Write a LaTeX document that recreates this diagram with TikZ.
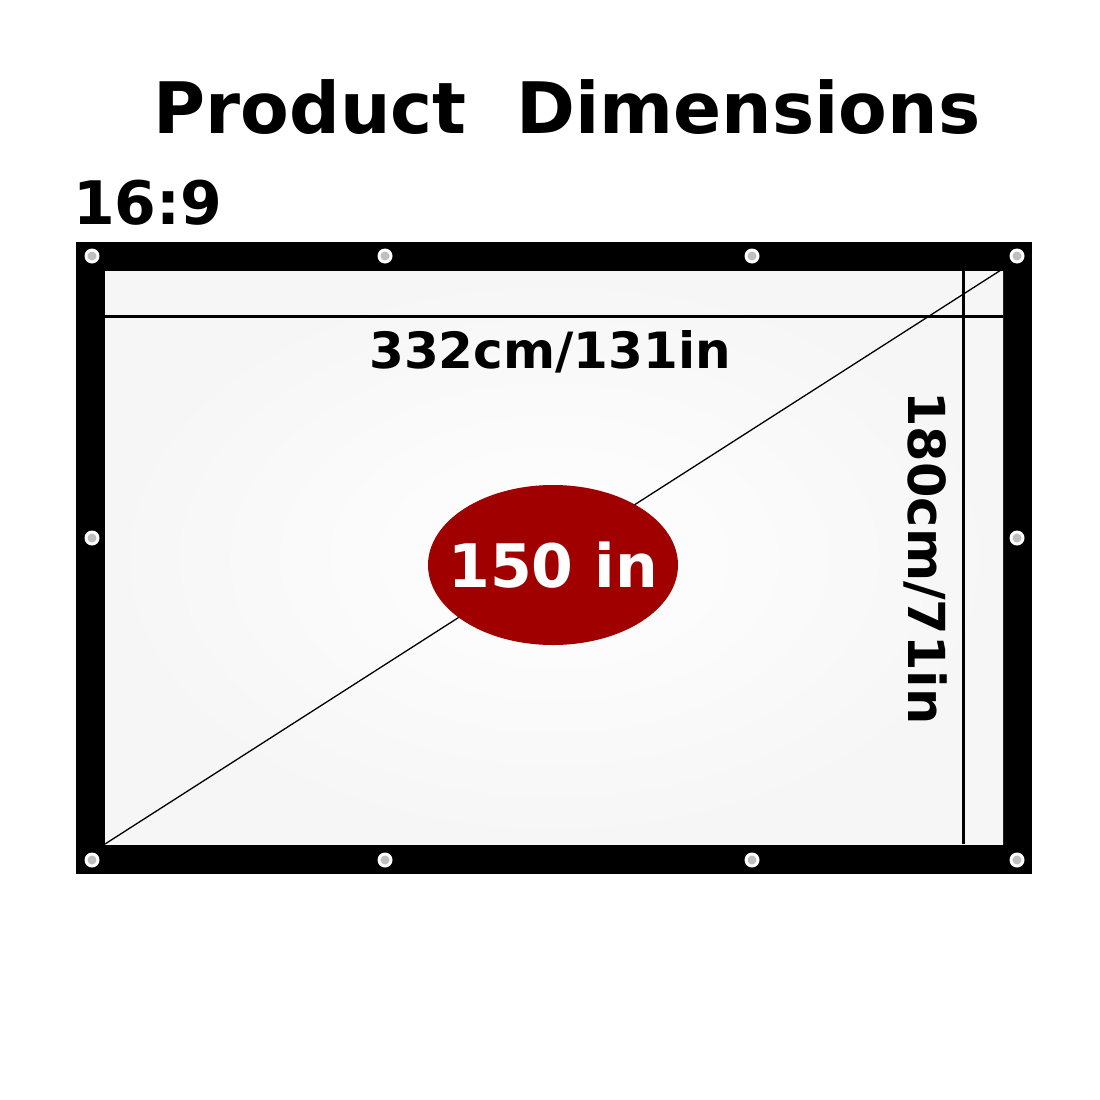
\documentclass[tikz,border=0pt]{standalone}
\usepackage{fontspec}
\setmainfont{DejaVu Sans}
\usetikzlibrary{shapes.geometric}
\definecolor{darkred}{HTML}{A00000}
\definecolor{screen}{HTML}{F6F6F6}
\tikzset{
  grommet/.style={circle,fill=white,draw=none,minimum size=15pt,inner sep=0pt,path picture={\fill[black!25] (path picture bounding box.center) circle (4.5pt);}},
  bigtext/.style={inner sep=0pt},
  measure/.style={line width=3pt,black}
}
\begin{document}
\begin{tikzpicture}[x=1pt,y=-1pt]
\useasboundingbox (0,0) rectangle (1100,1100);
\fill[white] (0,0) rectangle (1100,1100);
% screen frame
\fill[black] (76,242) rectangle (1032,874);
\shade[inner color=white,outer color=screen] (105,271) rectangle (1003,844);
\coordinate (bl) at (105,844);
\coordinate (tr) at (1001,270);
\coordinate (hl) at (105,316);
\coordinate (hr) at (1003,316);
\coordinate (vt) at (963,271);
\coordinate (vb) at (963,844);
\draw[measure] (hl) -- (hr);
\draw[measure] (vt) -- (vb);
\draw[line width=1.3pt] (bl) -- (tr);
% grommets
\foreach \n/\x/\y in {a/92/256,b/385/256,c/752/256,d/1017/256,e/92/538,f/1017/538,g/92/860,h/385/860,i/752/860,j/1017/860}
  \node[grommet] (g\n) at (\x,\y) {};
% texts
\node[bigtext,font=\fontsize{71}{78}\bfseries\selectfont] (title) at (567,107) {Product\ \ Dimensions};
\node[bigtext,font=\fontsize{60}{66}\bfseries\selectfont,anchor=west] (ratio) at (73,203) {16:9};
\node[bigtext,font=\fontsize{50}{56}\bfseries\selectfont] (width) at (550,352) {332cm/131in};
\node[bigtext,font=\fontsize{51}{56}\bfseries\selectfont,rotate=-90] (height) at (925,558) {180cm/71in};
\node[ellipse,fill=darkred,minimum width=250pt,minimum height=160pt,inner sep=0pt] (oval) at (553,565) {};
\node[bigtext,font=\fontsize{60}{66}\bfseries\selectfont,text=white] (diag) at (oval.center) {150 in};
\end{tikzpicture}
\end{document}
